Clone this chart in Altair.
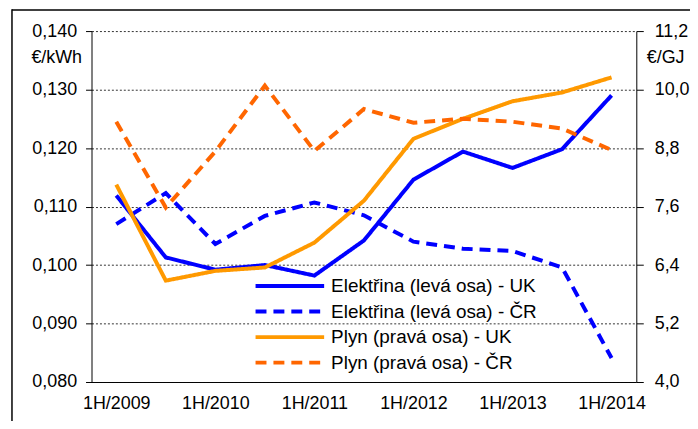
import altair as alt
import pandas as pd

periods = ["1H/2009", "2H/2009", "1H/2010", "2H/2010", "1H/2011", "2H/2011",
           "1H/2012", "2H/2012", "1H/2013", "2H/2013", "1H/2014"]
tick_labels = ["1H/2009", "1H/2010", "1H/2011", "1H/2012", "1H/2013", "1H/2014"]

series_names = ["Elektřina (levá osa) - UK", "Elektřina (levá osa) - ČR",
                "Plyn (pravá osa) - UK", "Plyn (pravá osa) - ČR"]

elec_uk = [0.1119, 0.1013, 0.0992, 0.1000, 0.0982, 0.1042, 0.1146, 0.1194, 0.1166, 0.1198, 0.1290]
elec_cr = [0.1070, 0.1123, 0.1036, 0.1084, 0.1107, 0.1085, 0.1040, 0.1028, 0.1024, 0.0996, 0.0841]
gas_uk = [8.05, 6.08, 6.28, 6.35, 6.86, 7.72, 8.99, 9.40, 9.76, 9.94, 10.25]
gas_cr = [9.34, 7.58, 8.73, 10.08, 8.74, 9.60, 9.32, 9.40, 9.34, 9.20, 8.76]

left_ticks = [0.08, 0.09, 0.10, 0.11, 0.12, 0.13, 0.14]
right_ticks = [4.0, 5.2, 6.4, 7.6, 8.8, 10.0, 11.2]

colors = ["#0000FF", "#0000FF", "#FF9900", "#FF6600"]
dashes = [[1, 0], [11, 7], [1, 0], [11, 7]]

FONT = "Liberation Sans"

def long(values_list, names):
    rows = []
    for vals, name in zip(values_list, names):
        for p, v in zip(periods, vals):
            rows.append({"period": p, "series": name, "value": v})
    return pd.DataFrame(rows)

df_e = long([elec_uk, elec_cr], series_names[:2])
df_g = long([gas_uk, gas_cr], series_names[2:])
df_leg = pd.DataFrame({"series": series_names, "row": list(range(len(series_names)))})

color = alt.Color("series:N", scale=alt.Scale(domain=series_names, range=colors), legend=None)
dash = alt.StrokeDash("series:N", scale=alt.Scale(domain=series_names, range=dashes), legend=None)

x = alt.X("period:O", sort=periods,
          scale=alt.Scale(type="point", padding=0.5),
          axis=alt.Axis(values=tick_labels, labelAngle=0, ticks=False, title=None,
                        domainColor="#000000", domainWidth=1, labelPadding=13,
                        labelFontSize=18, labelFont=FONT, labelColor="#000000", grid=False))

elec = alt.Chart(df_e).mark_line(strokeWidth=4).encode(
    x=x,
    y=alt.Y("value:Q", scale=alt.Scale(domain=[0.08, 0.14], nice=False, zero=False),
            axis=alt.Axis(values=left_ticks, orient="left",
                          labelExpr="replace(format(datum.value, '.3f'), '.', ',')",
                          title="€/kWh", titleAngle=0, titleX=-10, titleY=27,
                          titleAlign="right", titleBaseline="middle",
                          titleFontWeight="normal", titleFontSize=18, titleFont=FONT,
                          titleColor="#000000",
                          labelFontSize=18, labelFont=FONT, labelColor="#000000",
                          labelPadding=9, tickSize=6, tickColor="#000000",
                          domainColor="#000000", grid=True, gridColor="#333333",
                          gridDash=[2, 2], gridWidth=1)),
    color=color,
    strokeDash=dash,
)

gas = alt.Chart(df_g).mark_line(strokeWidth=4).encode(
    x=x,
    y=alt.Y("value:Q", scale=alt.Scale(domain=[4.0, 11.2], nice=False, zero=False),
            axis=alt.Axis(values=right_ticks, orient="right",
                          labelExpr="replace(format(datum.value, '.1f'), '.', ',')",
                          title="€/GJ", titleAngle=0, titleX=10, titleY=27,
                          titleAlign="left", titleBaseline="middle",
                          titleFontWeight="normal", titleFontSize=18, titleFont=FONT,
                          titleColor="#000000",
                          labelFontSize=18, labelFont=FONT, labelColor="#000000",
                          labelPadding=11, tickSize=7, tickColor="#000000",
                          domainColor="#000000", grid=False)),
    color=color,
    strokeDash=dash,
)

leg_y = alt.Y("row:O", scale=alt.Scale(type="point", domain=list(range(len(series_names))),
                                        range=[256.5, 333.5], padding=0), axis=None)

leg_lines = alt.Chart(df_leg).mark_rule(strokeWidth=4).encode(
    x=alt.value(165), x2=alt.value(234), y=leg_y, color=color, strokeDash=dash)
leg_text = alt.Chart(df_leg).mark_text(align="left", baseline="middle", fontSize=19,
                                       font=FONT, color="#000000").encode(
    x=alt.value(241), y=leg_y, text="series:N")

frame_left = alt.Chart(pd.DataFrame({"k": [0]})).mark_rule(color="#000000", strokeWidth=1.5).encode(
    x=alt.value(-80), y=alt.value(-22), y2=alt.value(420))
frame_top = alt.Chart(pd.DataFrame({"k": [0]})).mark_rule(color="#000000", strokeWidth=1.5).encode(
    x=alt.value(-80), x2=alt.value(620), y=alt.value(-21.2))

chart = alt.layer(elec, gas, leg_lines, leg_text, frame_left, frame_top).resolve_scale(
    y="independent"
).properties(
    width=548, height=353, autosize="none",
    padding={"left": 84, "top": 22, "right": 54, "bottom": 38},
    background="#FFFFFF",
).configure_view(stroke=None)

chart.save("out.html", embed_options={"renderer": "svg", "actions": False})
